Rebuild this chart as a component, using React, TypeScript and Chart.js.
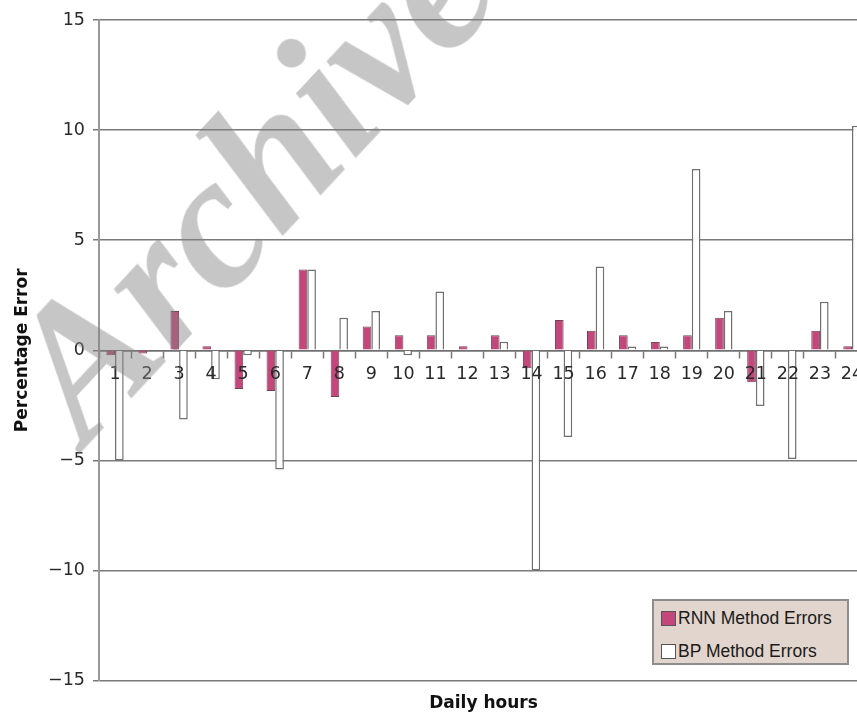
import React, { useEffect, useRef } from "react";
import { Chart, registerables } from "chart.js";

Chart.register(...registerables);

const hours = ["1","2","3","4","5","6","7","8","9","10","11","12","13","14","15","16","17","18","19","20","21","22","23","24"];
const rnnErrors = [-0.23, -0.15, 1.79, 0.18, -1.76, -1.85, 3.67, -2.12, 1.08, 0.68, 0.68, 0.18, 0.68, -0.82, 1.38, 0.89, 0.68, 0.38, 0.68, 1.48, -1.45, 0, 0.89, 0.18];
const bpErrors = [-5.0, 0, -3.14, -1.32, -0.23, -5.41, 3.67, 1.48, 1.79, -0.23, 2.67, 0, 0.39, -10.0, -3.94, 3.8, 0.17, 0.17, 8.23, 1.79, -2.53, -4.94, 2.2, 10.2];
const yTicks = [-15, -10, -5, 0, 5, 10, 15];
const seriesNames = ["RNN Method Errors", "BP Method Errors"];
const seriesColors = ["#c4477c", "#ffffff"];

const AXIS_FONT = "'DejaVu Sans', 'Liberation Sans', Arial, sans-serif";
const LEGEND_FONT = "'Liberation Sans', Arial, sans-serif";

export default function App() {
  const canvasRef = useRef<HTMLCanvasElement | null>(null);

  useEffect(() => {
    if (!canvasRef.current) return;
    const chart = new Chart(canvasRef.current, {
      type: "bar",
      data: {
        labels: hours,
        datasets: [
          {
            label: seriesNames[0],
            data: rnnErrors,
            backgroundColor: seriesColors[0],
            borderColor: "#6a4656",
            borderWidth: 1,
            barPercentage: 1,
            categoryPercentage: 0.54,
          },
          {
            label: seriesNames[1],
            data: bpErrors,
            backgroundColor: seriesColors[1],
            borderColor: "#707070",
            borderWidth: 1.5,
            barPercentage: 1,
            categoryPercentage: 0.54,
          },
        ],
      },
      options: {
        animation: false,
        responsive: true,
        maintainAspectRatio: false,
        layout: { padding: { top: 20, right: 12, bottom: 0, left: 0 } },
        plugins: {
          legend: { display: false },
          tooltip: { enabled: false },
          title: {
            display: true,
            position: "bottom",
            fullSize: false,
            text: "Daily hours",
            color: "#111",
            font: { family: AXIS_FONT, size: 17, weight: "bold" },
            padding: { top: 13, bottom: 1 },
          },
        },
        scales: {
          x: {
            type: "category",
            position: { y: 0 } as any,
            offset: true,
            grid: {
              display: true,
              drawOnChartArea: false,
              drawTicks: true,
              tickLength: 7,
              tickColor: "#7a7a7a",
              tickWidth: 1.5,
              offset: true,
            },
            border: { display: true, color: "#707070", width: 1.5 },
            ticks: {
              z: 1,
              autoSkip: false,
              maxRotation: 0,
              color: "#2a2a2a",
              padding: 7,
              font: { family: AXIS_FONT, size: 17.5 },
            },
          },
          y: {
            min: -15,
            max: 15,
            afterBuildTicks: (scale: any) => {
              scale.ticks = yTicks.map((v) => ({ value: v }));
            },
            afterFit: (scale: any) => {
              scale.width = 99;
            },
            grid: {
              color: "#7a7a7a",
              lineWidth: 1.5,
              drawTicks: true,
              tickLength: 6,
              tickColor: "#7a7a7a",
            },
            border: { display: true, color: "#999", width: 2 },
            ticks: {
              color: "#2a2a2a",
              padding: 8,
              font: { family: AXIS_FONT, size: 17.5 },
              callback: (v: any) => (Number(v) < 0 ? "\u2212" + Math.abs(Number(v)) : String(v)),
            },
            title: {
              display: true,
              text: "Percentage Error",
              color: "#111",
              font: { family: AXIS_FONT, size: 17, weight: "bold" },
              padding: { top: 12, bottom: 0 },
            },
          },
        },
      },
    });
    return () => chart.destroy();
  }, []);

  return (
    <div
      style={{
        position: "absolute",
        left: 0,
        top: 0,
        width: 857,
        height: 715,
        overflow: "hidden",
        background: "#fff",
      }}
    >
      <div style={{ position: "absolute", left: 0, top: 0, width: 880, height: 715 }}>
        <canvas ref={canvasRef} style={{ display: "block" }} />
      </div>
      <div
        style={{
          position: "absolute",
          left: 652,
          top: 599,
          width: 197,
          height: 66,
          boxSizing: "border-box",
          background: "#e2d5cd",
          border: "2px solid #8d8d8d",
          fontFamily: LEGEND_FONT,
          fontSize: 17.5,
          color: "#1a1a1a",
        }}
      >
        {seriesNames.map((name, i) => (
          <div
            key={name}
            style={{
              position: "absolute",
              left: 7,
              top: 6 + i * 33,
              height: 22,
              display: "flex",
              alignItems: "center",
              whiteSpace: "nowrap",
            }}
          >
            <span
              style={{
                display: "inline-block",
                width: 13,
                height: 13,
                background: seriesColors[i],
                border: "1px solid #555",
                marginRight: 2,
              }}
            />
            <span>{name}</span>
          </div>
        ))}
      </div>
      <div
        style={{
          position: "absolute",
          left: 248,
          top: 180,
          transform: "translate(-50%, -50%) rotate(-47deg)",
          fontFamily: "'Liberation Serif', 'DejaVu Serif', serif",
          fontStyle: "italic",
          fontWeight: "bold",
          fontSize: 190,
          lineHeight: 1,
          color: "rgba(128,128,128,0.45)",
          whiteSpace: "nowrap",
          pointerEvents: "none",
        }}
      >
        Archive
      </div>
    </div>
  );
}
